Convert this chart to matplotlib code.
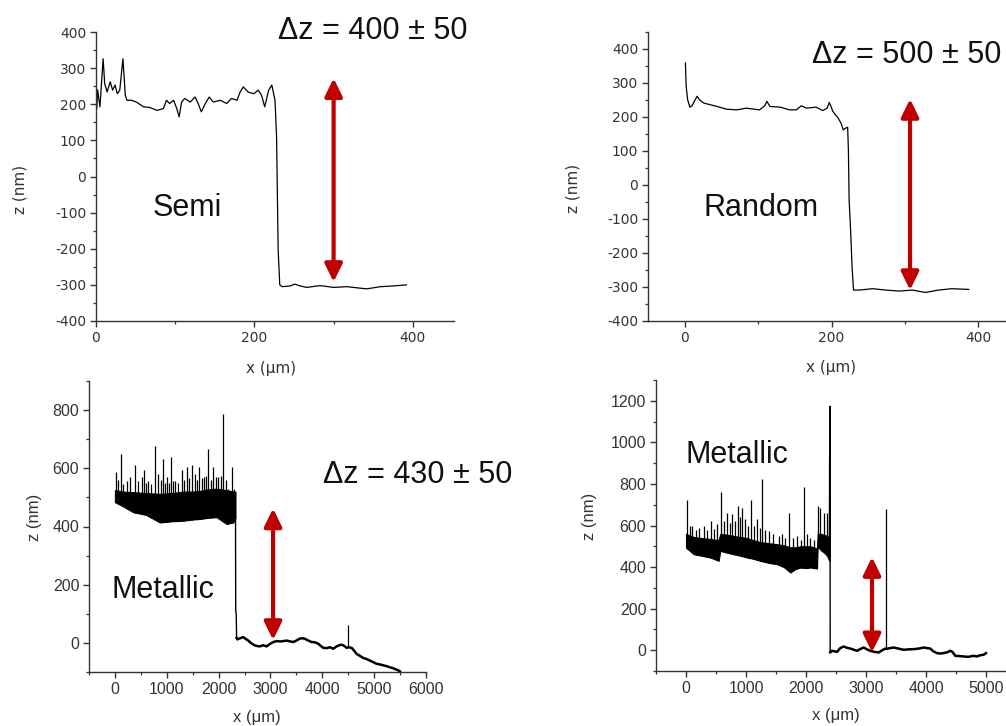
import matplotlib.pyplot as plt
from matplotlib.ticker import MultipleLocator
import numpy as np

plt.rcParams['axes.unicode_minus'] = False

# ---- Semi profile (top left)
semi_x = [0, 1, 2, 5, 9, 11, 14, 18, 21, 24, 27, 30, 34, 37, 39, 45, 51, 60, 68, 77,
          85, 89, 93, 98, 102, 105, 108, 112, 119, 125, 129, 133, 138, 143, 148, 157, 165, 171, 178, 182,
          186, 192, 199, 205, 209, 213, 218, 222, 226, 228, 230, 232, 235, 245, 251, 258, 266, 283, 300, 317,
          333, 342, 359, 375, 392]
semi_z = [257, 188, 240, 193, 326, 257, 234, 262, 239, 253, 229, 239, 326, 225, 211, 211, 206, 193, 191, 183,
          188, 211, 202, 211, 188, 165, 206, 216, 206, 220, 202, 179, 202, 220, 206, 211, 202, 216, 211, 234,
          248, 234, 229, 239, 225, 193, 239, 253, 211, 110, -204, -300, -305, -303, -298, -303, -307, -302, -307, -305,
          -309, -311, -305, -303, -300]

# ---- Random profile (top right)
rand_x = [1, 2, 4, 7, 10, 13, 17, 20, 26, 35, 44, 57, 71, 84, 102, 109, 112, 116, 130, 143,
          152, 159, 166, 179, 188, 194, 197, 202, 209, 213, 216, 219, 222, 223, 224, 226, 228, 230, 238, 256,
          274, 292, 310, 328, 346, 364, 387]
rand_z = [359, 290, 251, 229, 233, 246, 261, 251, 241, 236, 231, 223, 221, 226, 221, 233, 246, 231, 229, 221,
          221, 233, 226, 229, 219, 226, 243, 216, 197, 182, 162, 167, 170, 104, -44, -132, -240, -309, -309, -305,
          -309, -312, -309, -316, -309, -305, -307]

# ---- Metallic A (bottom left): noisy band + spikes + step + substrate line
metA_band_x = [0, 150, 354, 600, 868, 1100, 1318, 1500, 1640, 1800, 1961, 2154, 2283, 2325]
metA_band_lo = [484, 470, 449, 440, 414, 418, 420, 424, 426, 430, 432, 409, 414, 430]
metA_band_hi = [525, 520, 518, 515, 512, 515, 520, 520, 522, 528, 530, 525, 520, 520]
metA_spike_x = [19, 60, 109, 160, 225, 290, 386, 450, 514, 560, 600, 643, 700, 772, 836, 880, 920, 960, 997, 1040,
                1074, 1120, 1158, 1220, 1286, 1340, 1383, 1430, 1479, 1543, 1580, 1621, 1680, 1717, 1760, 1801, 1850, 1897, 1940, 1994,
                2040, 2090, 2140, 2186, 2251, 2300]
metA_spike_z = [587, 560, 650, 545, 558, 570, 610, 555, 570, 593, 550, 558, 545, 675, 581, 560, 633, 550, 570, 548,
                640, 555, 558, 550, 593, 560, 604, 565, 610, 581, 560, 604, 565, 570, 575, 667, 560, 604, 570, 570,
                575, 786, 560, 529, 604, 529]
metA_step_x = [2320, 2326, 2330, 2340, 2347]
metA_step_z = [450, 430, 109, 100, 17]
metA_x = [2347, 2360, 2400, 2476, 2520, 2572, 2620, 2669, 2720, 2797, 2860, 2926, 2970, 3022, 3070, 3119,
          3200, 3312, 3380, 3441, 3500, 3569, 3620, 3666, 3730, 3794, 3860, 3923, 3970, 4019, 4080, 4148, 4210, 4277, 4330, 4373,
          4420, 4469, 4502, 4566, 4620, 4662, 4730, 4791, 4850, 4920, 4980, 5048, 5110, 5177, 5240, 5305, 5350, 5402,
          5450, 5498]
metA_z = [17, 12, 15, 20, 14, 8, 0, -6, -10, -12, -8, -12, -6, 0, 4, 6,
          5, 8, 5, 3, 8, 15, 16, 14, 8, 3, 2, -3, -10, -17, -18, -15, -20, -12, -8, -6,
          -10, -17, -15, -17, -28, -38, -45, -52, -55, -61, -66, -72, -74, -77, -80, -84, -86, -90,
          -93, -98]
metA_sub_spike_x = [4502]
metA_sub_spike_z = [63]

# ---- Metallic B (bottom right)
metB_band_x = [0, 128, 250, 406, 544, 572, 700, 794, 900, 1017, 1120, 1239, 1380, 1517, 1630, 1739, 1820, 1906, 2000, 2072, 2183]
metB_band_lo = [494, 462, 455, 446, 430, 478, 468, 462, 455, 446, 440, 430, 420, 414, 400, 374, 390, 398, 395, 398, 393]
metB_band_hi = [560, 545, 540, 535, 530, 560, 555, 550, 545, 540, 530, 520, 515, 510, 505, 495, 495, 500, 500, 500, 490]
metB_band2_x = [2195, 2250, 2300, 2350, 2390]
metB_band2_lo = [500, 480, 470, 455, 430]
metB_band2_hi = [560, 560, 555, 550, 540]
metB_spike_x = [22, 60, 100, 160, 220, 294, 350, 417, 470, 517, 583, 630, 683, 730, 767, 820, 861, 900, 933, 989,
                1040, 1083, 1130, 1183, 1230, 1267, 1320, 1378, 1450, 1544, 1600, 1650, 1717, 1780, 1850, 1920, 1972, 2020, 2072, 2140,
                2200, 2228, 2294, 2350, 2383]
metB_spike_z = [724, 600, 598, 580, 590, 598, 580, 622, 585, 606, 759, 620, 662, 610, 654, 620, 694, 640, 686, 630,
                600, 724, 600, 630, 590, 823, 580, 574, 560, 550, 560, 540, 662, 540, 550, 530, 786, 560, 542, 530,
                694, 686, 662, 662, 919]
metB_step_x = [2390, 2400, 2403]
metB_step_z = [440, 1173, -10]
metB_x = [2403, 2433, 2470, 2517, 2570, 2628, 2680, 2739, 2800, 2850, 2900, 2961, 3010, 3072, 3140, 3211, 3270, 3322,
          3333, 3400, 3461, 3540, 3628, 3700, 3794, 3880, 3961, 4020, 4072, 4120, 4183, 4240, 4294, 4350, 4406, 4440,
          4489, 4550, 4628, 4700, 4794, 4850, 4906, 4960, 5000]
metB_z = [-10, -3, -5, -8, 10, 18, 12, 8, 2, -3, 5, 13, 5, -3, -8, -11, 0, 8,
          6, 10, 13, 8, 2, 4, 5, 8, 13, 10, 8, -5, -14, -16, -14, -10, -3, -8,
          -27, -28, -30, -32, -27, -30, -24, -22, -14]
metB_sub_spike_x = [3333]
metB_sub_spike_z = [680]

# arrows: x, z bottom, z top
arrows = [(300, -292, 272), (307, -309, 253), (3050, 10, 462), (3100, -10, 448)]

W, H = 1006, 726
fig = plt.figure(figsize=(W / 100, H / 100), dpi=100)


def px_axes(l, t, r, b):
    return fig.add_axes([l / W, 1 - b / H, (r - l) / W, (b - t) / H])


def style(ax, font, size, xmaj, xmin, ymaj, ymin):
    for s in ['top', 'right']:
        ax.spines[s].set_visible(False)
    for s in ['left', 'bottom']:
        ax.spines[s].set_color('#333333')
        ax.spines[s].set_linewidth(1.0)
    ax.xaxis.set_major_locator(MultipleLocator(xmaj))
    ax.xaxis.set_minor_locator(MultipleLocator(xmin))
    ax.yaxis.set_major_locator(MultipleLocator(ymaj))
    ax.yaxis.set_minor_locator(MultipleLocator(ymin))
    ax.tick_params(which='major', direction='out', length=4, width=1.0, color='#333333',
                   labelcolor='#333333', labelsize=size, pad=3)
    ax.tick_params(which='minor', direction='out', length=2.5, width=0.9, color='#333333')
    for lab in ax.get_xticklabels() + ax.get_yticklabels():
        lab.set_fontfamily(font)


def add_arrow(ax, a):
    ax.annotate('', xy=(a[0], a[2]), xytext=(a[0], a[1]),
                arrowprops=dict(arrowstyle='<|-|>,head_length=0.45,head_width=0.22',
                                color='#c00000', lw=3, mutation_scale=24,
                                shrinkA=0, shrinkB=0))


def note(txt, x, y):
    fig.text(x / W, 1 - y / H, txt, fontsize=22, family='Liberation Sans',
             color='#111111', ha='left', va='baseline')


def noisy(ax, bx, blo, bhi, sx, sz):
    ax.fill_between(bx, blo, bhi, color='black', lw=0.8)
    base = np.interp(sx, bx, blo)
    ax.vlines(sx, base, sz, color='black', lw=0.9)


# ---- top left
ax1 = px_axes(96, 32, 454, 321)
ax1.plot(semi_x, semi_z, color='black', lw=0.9)
ax1.set_xlim(0, 452)
ax1.set_ylim(-400, 400)
style(ax1, 'DejaVu Sans', 10, 200, 100, 100, 50)
ax1.set_xlabel('x (\u03bcm)', fontsize=11, color='#333333')
ax1.set_ylabel('z (nm)', fontsize=11, color='#333333')
ax1.xaxis.set_label_coords(0.489, -0.14)
ax1.yaxis.set_label_coords(-0.19, 0.455)
add_arrow(ax1, arrows[0])

# ---- top right
ax2 = px_axes(648, 32, 1015, 321)
ax2.plot(rand_x, rand_z, color='black', lw=0.9)
ax2.set_xlim(-50, 450)
ax2.set_ylim(-400, 450)
style(ax2, 'DejaVu Sans', 10, 200, 100, 100, 50)
ax2.set_xlabel('x (\u03bcm)', fontsize=11, color='#333333')
ax2.set_ylabel('z (nm)', fontsize=11, color='#333333')
ax2.xaxis.set_label_coords(0.499, -0.135)
ax2.yaxis.set_label_coords(-0.185, 0.46)
add_arrow(ax2, arrows[1])

# ---- bottom left
ax3 = px_axes(89, 381, 426, 672)
noisy(ax3, metA_band_x, metA_band_lo, metA_band_hi, metA_spike_x, metA_spike_z)
ax3.plot(metA_step_x, metA_step_z, color='black', lw=1.0)
ax3.vlines(metA_sub_spike_x, -15, metA_sub_spike_z, color='black', lw=0.9)
ax3.plot(metA_x, metA_z, color='black', lw=1.8)
ax3.set_xlim(-500, 6000)
ax3.set_ylim(-100, 900)
style(ax3, 'Liberation Sans', 11.5, 1000, 500, 200, 100)
ax3.set_xlabel('x (\u03bcm)', fontsize=12, color='#333333', family='Liberation Sans')
ax3.set_ylabel('z (nm)', fontsize=12, color='#333333', family='Liberation Sans')
ax3.xaxis.set_label_coords(0.498, -0.13)
ax3.yaxis.set_label_coords(-0.14, 0.533)
add_arrow(ax3, arrows[2])

# ---- bottom right
ax4 = px_axes(656, 380, 1016, 671)
noisy(ax4, metB_band_x + metB_band2_x, metB_band_lo + metB_band2_lo,
      metB_band_hi + metB_band2_hi, metB_spike_x, metB_spike_z)
ax4.plot(metB_step_x, metB_step_z, color='black', lw=1.0)
ax4.vlines(metB_sub_spike_x, 6, metB_sub_spike_z, color='black', lw=0.9)
ax4.plot(metB_x, metB_z, color='black', lw=1.8)
ax4.set_xlim(-500, 5500)
ax4.set_ylim(-100, 1300)
style(ax4, 'Liberation Sans', 11.5, 1000, 500, 200, 100)
ax4.set_xlabel('x (\u03bcm)', fontsize=12, color='#333333', family='Liberation Sans')
ax4.set_ylabel('z (nm)', fontsize=12, color='#333333', family='Liberation Sans')
ax4.xaxis.set_label_coords(0.5, -0.127)
ax4.yaxis.set_label_coords(-0.164, 0.53)
add_arrow(ax4, arrows[3])

note('\u0394z = 400 \u00b1 50', 278, 39)
note('Semi', 153, 216)
note('\u0394z = 500 \u00b1 50', 812, 63)
note('Random', 704, 216)
note('\u0394z = 430 \u00b1 50', 323, 483)
note('Metallic', 112, 598)
note('Metallic', 686, 463)

fig.savefig('out.png', dpi=100)
